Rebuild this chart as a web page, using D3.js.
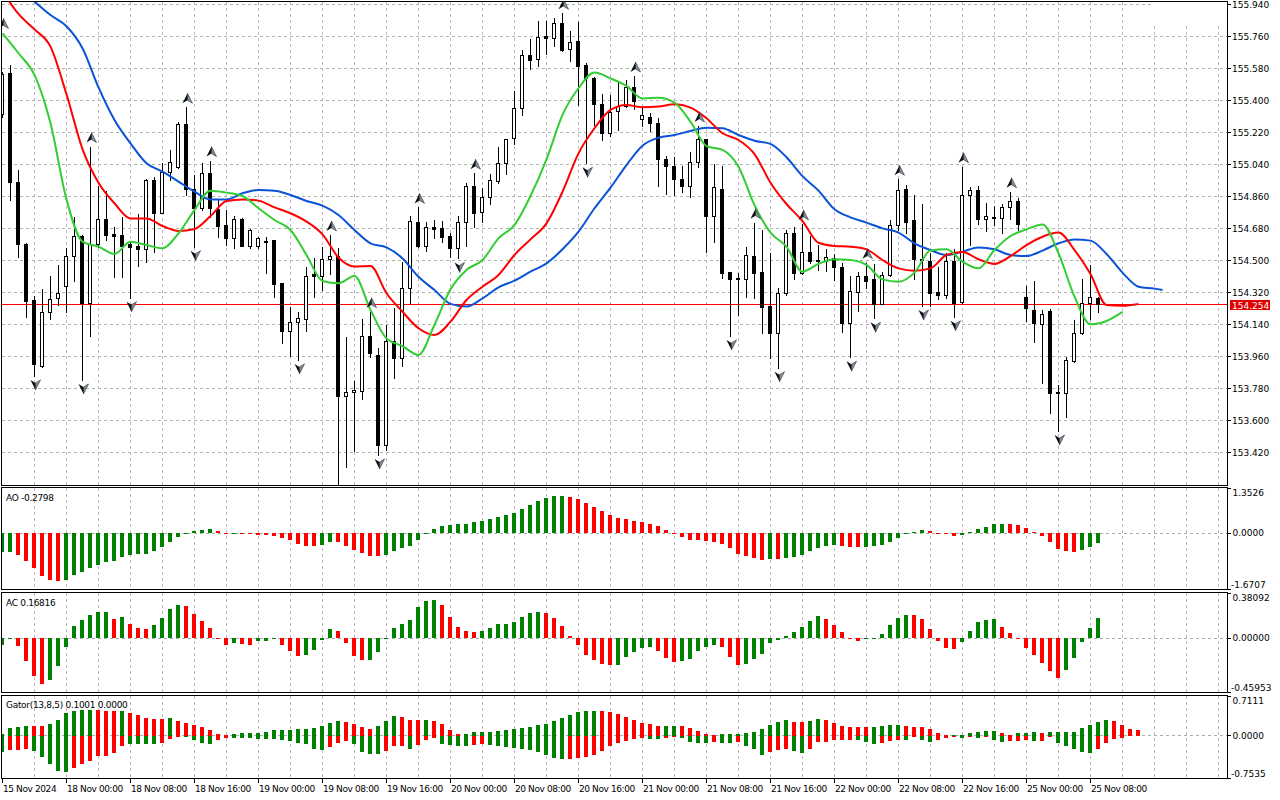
<!DOCTYPE html>
<html>
<head>
<meta charset="utf-8">
<title>H1 chart - Alligator, AO, AC, Gator</title>
<script src="https://cdnjs.cloudflare.com/ajax/libs/d3/7.8.5/d3.min.js"></script>
<style>
  html, body { margin: 0; padding: 0; background: #fff; overflow: hidden; }
  #chart svg { display: block; }
  text { font-family: "DejaVu Sans", Verdana, sans-serif; font-size: 9px; fill: #000; }
</style>
</head>
<body>
<div id="chart"></div>
<script>
// =======================================
// H1 candles + Alligator + Fractals
// sub windows: AO / AC / Gator
// D3 v7
// =======================================

// ---------- DATA ----------
// tick labels, one every 8 bars
const timeLabels = ["15 Nov 2024", "18 Nov 00:00", "18 Nov 08:00", "18 Nov 16:00", "19 Nov 00:00",
  "19 Nov 08:00", "19 Nov 16:00", "20 Nov 00:00", "20 Nov 08:00", "20 Nov 16:00", "21 Nov 00:00",
  "21 Nov 08:00", "21 Nov 16:00", "22 Nov 00:00", "22 Nov 08:00", "22 Nov 16:00", "25 Nov 00:00",
  "25 Nov 08:00"];

const priceTicks = [155.940, 155.760, 155.580, 155.400, 155.220, 155.040, 154.860, 154.680,
  154.500, 154.320, 154.140, 153.960, 153.780, 153.600, 153.420];
const lastPrice = 154.254;

const openP = [
  155.321, 155.550, 154.941, 154.588, 154.275, 153.906, 154.206, 154.284, 154.356, 154.524,
  154.635, 154.260, 154.588, 154.731, 154.644, 154.641, 154.590, 154.579, 154.560, 154.950,
  154.766, 154.993, 155.021, 155.265, 154.898, 154.791, 154.988, 154.785, 154.695, 154.622,
  154.731, 154.581, 154.581, 154.609, 154.613, 154.369, 154.103, 154.149, 154.166, 154.421,
  154.410, 154.504, 154.523, 153.737, 153.756, 153.765, 154.073, 153.966, 153.459, 154.044,
  153.947, 154.341, 154.716, 154.581, 154.684, 154.678, 154.637, 154.566, 154.712, 154.916,
  154.768, 154.856, 154.946, 155.048, 155.184, 155.353, 155.653, 155.629, 155.760, 155.747,
  155.831, 155.685, 155.732, 155.597, 155.526, 155.378, 155.213, 155.338, 155.366, 155.471,
  155.291, 155.303, 155.269, 155.070, 155.031, 154.954, 154.918, 155.049, 155.179, 154.749,
  154.899, 154.433, 154.397, 154.391, 154.523, 154.431, 154.241, 154.088, 154.313, 154.650,
  154.429, 154.543, 154.500, 154.496, 154.509, 154.459, 154.148, 154.322, 154.410, 154.391,
  154.253, 154.414, 154.695, 154.898, 154.725, 154.508, 154.496, 154.320, 154.305, 154.494,
  154.266, 154.864, 154.894, 154.729, 154.744, 154.734, 154.796, 154.832, 154.294, 154.219,
  154.140, 154.215, 153.758, 153.754, 153.934, 154.088, 154.256, 154.284];

const highP = [
  155.559, 155.597, 155.006, 154.598, 154.298, 154.335, 154.410, 154.472, 154.566, 154.740,
  154.641, 155.138, 154.916, 154.888, 154.688, 154.740, 154.609, 154.759, 154.955, 154.969,
  155.044, 155.119, 155.278, 155.359, 154.978, 155.044, 155.059, 154.838, 154.781, 154.748,
  154.736, 154.673, 154.628, 154.628, 154.615, 154.371, 154.238, 154.206, 154.463, 154.509,
  154.571, 154.641, 154.566, 154.065, 153.819, 154.168, 154.209, 154.003, 154.134, 154.228,
  154.491, 154.748, 154.796, 154.716, 154.725, 154.721, 154.650, 154.748, 154.935, 154.988,
  154.907, 154.982, 155.138, 155.183, 155.453, 155.681, 155.741, 155.846, 155.846, 155.859,
  155.888, 155.788, 155.841, 155.606, 155.528, 155.434, 155.429, 155.498, 155.513, 155.535,
  155.366, 155.329, 155.297, 155.085, 155.081, 155.029, 155.106, 155.254, 155.183, 155.040,
  155.029, 154.435, 154.429, 154.571, 154.710, 154.669, 154.538, 154.341, 154.669, 154.684,
  154.703, 154.635, 154.584, 154.560, 154.534, 154.481, 154.410, 154.434, 154.485, 154.478,
  154.434, 154.725, 154.954, 154.922, 154.866, 154.815, 154.538, 154.463, 154.538, 154.560,
  155.025, 154.913, 154.918, 154.819, 154.804, 154.815, 154.884, 154.851, 154.356, 154.382,
  154.221, 154.223, 153.797, 153.956, 154.163, 154.393, 154.472, 154.294];

const lowP = [
  155.306, 154.838, 154.519, 154.178, 153.848, 153.900, 154.166, 154.247, 154.209, 154.384,
  153.825, 154.074, 154.575, 154.613, 154.406, 154.406, 154.288, 154.468, 154.491, 154.547,
  154.763, 154.950, 155.016, 154.866, 154.575, 154.781, 154.744, 154.631, 154.584, 154.566,
  154.579, 154.566, 154.566, 154.425, 154.290, 154.031, 153.960, 153.938, 154.103, 154.290,
  154.331, 154.421, 153.216, 153.338, 153.428, 153.716, 153.956, 153.403, 153.431, 153.838,
  153.906, 154.256, 154.575, 154.553, 154.622, 154.603, 154.515, 154.509, 154.581, 154.688,
  154.716, 154.815, 154.931, 154.984, 155.153, 155.316, 155.574, 155.591, 155.659, 155.704,
  155.678, 155.621, 155.372, 155.044, 155.259, 155.175, 155.199, 155.231, 155.363, 155.348,
  155.254, 155.228, 154.918, 154.871, 154.866, 154.884, 154.856, 155.021, 154.547, 154.603,
  154.397, 154.073, 154.191, 154.294, 154.288, 154.091, 153.951, 153.894, 154.303, 154.391,
  154.421, 154.481, 154.444, 154.440, 154.388, 154.097, 153.953, 154.215, 154.341, 154.172,
  154.250, 154.412, 154.669, 154.650, 154.391, 154.241, 154.241, 154.279, 154.288, 154.181,
  154.258, 154.584, 154.703, 154.665, 154.697, 154.654, 154.729, 154.669, 154.159, 154.041,
  153.806, 153.638, 153.538, 153.619, 153.928, 154.082, 154.168, 154.209];

const closeP = [
  155.546, 154.941, 154.588, 154.271, 153.913, 154.206, 154.279, 154.313, 154.524, 154.635,
  154.260, 154.588, 154.731, 154.641, 154.635, 154.581, 154.575, 154.560, 154.950, 154.766,
  154.993, 155.049, 155.265, 154.898, 154.791, 154.988, 154.791, 154.691, 154.622, 154.729,
  154.581, 154.669, 154.622, 154.599, 154.365, 154.103, 154.149, 154.172, 154.410, 154.410,
  154.504, 154.523, 153.737, 153.756, 153.769, 154.073, 153.975, 153.459, 154.044, 153.951,
  154.341, 154.719, 154.581, 154.684, 154.676, 154.631, 154.566, 154.712, 154.916, 154.763,
  154.856, 154.950, 155.044, 155.179, 155.353, 155.653, 155.625, 155.753, 155.747, 155.831,
  155.681, 155.724, 155.593, 155.526, 155.376, 155.213, 155.334, 155.366, 155.471, 155.396,
  155.314, 155.269, 155.070, 155.031, 154.956, 154.918, 155.049, 155.179, 154.749, 154.909,
  154.429, 154.391, 154.391, 154.526, 154.429, 154.238, 154.088, 154.313, 154.650, 154.429,
  154.543, 154.496, 154.496, 154.515, 154.459, 154.148, 154.326, 154.410, 154.384, 154.253,
  154.416, 154.695, 154.894, 154.716, 154.504, 154.500, 154.313, 154.305, 154.494, 154.260,
  154.866, 154.894, 154.729, 154.749, 154.734, 154.796, 154.832, 154.701, 154.228, 154.144,
  154.196, 153.754, 153.750, 153.938, 154.091, 154.256, 154.290, 154.254];

// Alligator lines, [bar, price] (already shifted forward 8 / 5 / 3 bars)
const jawLine = [[0, 156.10], [2, 156.02], [4, 155.953], [6, 155.878], [8, 155.815], [10, 155.691],
  [12, 155.471], [14, 155.288], [16, 155.156], [18, 155.044], [20, 154.997], [22, 154.941],
  [24, 154.884], [26, 154.841], [28, 154.841], [30, 154.875], [32, 154.894], [34, 154.890],
  [36, 154.866], [38, 154.832], [40, 154.806], [42, 154.753], [44, 154.669], [46, 154.594],
  [48, 154.571], [50, 154.509], [52, 154.406], [54, 154.331], [56, 154.253], [58, 154.238],
  [60, 154.284], [62, 154.346], [64, 154.384], [66, 154.434], [68, 154.481], [70, 154.560],
  [72, 154.659], [74, 154.791], [76, 154.907], [78, 155.034], [80, 155.143], [82, 155.188],
  [84, 155.203], [86, 155.226], [88, 155.244], [90, 155.241], [92, 155.203], [94, 155.171],
  [96, 155.153], [98, 155.078], [100, 154.972], [102, 154.890], [104, 154.785], [106, 154.740],
  [108, 154.710], [110, 154.678], [112, 154.654], [114, 154.594], [116, 154.556], [118, 154.528],
  [120, 154.547], [122, 154.571], [124, 154.560], [126, 154.528], [128, 154.522], [130, 154.553],
  [132, 154.594], [134, 154.616], [136, 154.609], [138, 154.534], [140, 154.429], [142, 154.350],
  [144, 154.339], [145, 154.331]];

const teethLine = [[0, 156.01], [2, 155.884], [4, 155.797], [6, 155.700], [8, 155.432], [10, 155.124],
  [12, 154.935], [14, 154.819], [16, 154.734], [18, 154.734], [20, 154.691], [22, 154.663],
  [24, 154.674], [26, 154.747], [28, 154.832], [30, 154.841], [32, 154.834], [34, 154.796],
  [36, 154.763], [38, 154.716], [40, 154.644], [42, 154.514], [44, 154.463], [46, 154.466],
  [48, 154.313], [50, 154.209], [52, 154.116], [54, 154.078], [56, 154.153], [58, 154.275],
  [60, 154.350], [62, 154.416], [64, 154.528], [66, 154.616], [68, 154.706], [70, 154.884],
  [72, 155.100], [74, 155.241], [76, 155.344], [78, 155.372], [80, 155.359], [82, 155.363],
  [84, 155.376], [86, 155.357], [88, 155.297], [90, 155.213], [92, 155.175], [94, 155.096],
  [96, 154.935], [98, 154.815], [100, 154.719], [102, 154.597], [104, 154.579], [106, 154.575],
  [108, 154.560], [110, 154.500], [112, 154.453], [114, 154.440], [116, 154.453], [118, 154.528],
  [120, 154.545], [122, 154.504], [124, 154.478], [126, 154.522], [128, 154.584], [130, 154.631],
  [132, 154.654], [134, 154.556], [136, 154.421], [138, 154.247], [140, 154.243], [142, 154.253]];

const lipsLine = [[0, 155.775], [2, 155.663], [4, 155.541], [6, 155.269], [8, 154.841], [10, 154.603],
  [12, 154.575], [14, 154.534], [16, 154.603], [18, 154.584], [20, 154.566], [22, 154.650],
  [24, 154.781], [26, 154.890], [28, 154.879], [30, 154.860], [32, 154.791], [34, 154.725],
  [36, 154.669], [38, 154.528], [40, 154.382], [42, 154.369], [44, 154.410], [46, 154.219],
  [48, 154.059], [50, 154.016], [52, 153.966], [54, 154.136], [56, 154.335], [58, 154.444],
  [60, 154.500], [62, 154.622], [64, 154.697], [66, 154.860], [68, 155.066], [70, 155.316],
  [72, 155.466], [74, 155.554], [76, 155.522], [78, 155.479], [80, 155.409], [82, 155.413],
  [84, 155.385], [86, 155.278], [88, 155.141], [90, 155.119], [92, 155.025], [94, 154.809],
  [96, 154.654], [98, 154.575], [100, 154.434], [102, 154.478], [104, 154.504], [106, 154.500],
  [108, 154.472], [110, 154.391], [112, 154.378], [114, 154.429], [116, 154.553], [118, 154.560],
  [120, 154.491], [122, 154.453], [124, 154.556], [126, 154.635], [128, 154.672], [130, 154.700],
  [132, 154.538], [134, 154.294], [136, 154.138], [138, 154.157], [140, 154.208]];

// Fractals, [bar, price]
const fractalUp = [[0, 155.78], [11, 155.138], [23, 155.359], [26, 155.059], [41, 154.641],
  [46, 154.209], [52, 154.796], [59, 154.988], [70, 155.888], [79, 155.535], [87, 155.254],
  [94, 154.710], [100, 154.703], [108, 154.485], [112, 154.954], [120, 155.025], [126, 154.884]];
const fractalDown = [[4, 153.848], [10, 153.825], [16, 154.288], [24, 154.575], [37, 153.938],
  [42, 153.216], [47, 153.403], [57, 154.509], [73, 155.044], [91, 154.073], [97, 153.894],
  [106, 153.953], [109, 154.172], [115, 154.241], [119, 154.181], [132, 153.538]];

// Awesome Oscillator
const aoValues = [
  -0.55, -0.548, -0.65, -0.83, -1.03, -1.27, -1.39, -1.43, -1.40, -1.25,
  -1.15, -1.05, -0.95, -0.85, -0.82, -0.70, -0.65, -0.63, -0.61, -0.52,
  -0.40, -0.25, -0.10, -0.02, 0.08, 0.11, 0.14, 0.07, -0.01, -0.005,
  -0.012, -0.03, -0.05, -0.052, -0.07, -0.13, -0.20, -0.32, -0.37, -0.38,
  -0.35, -0.25, -0.26, -0.38, -0.50, -0.59, -0.67, -0.675, -0.65, -0.52,
  -0.45, -0.37, -0.20, -0.01, 0.13, 0.23, 0.26, 0.28, 0.285, 0.35,
  0.38, 0.44, 0.50, 0.56, 0.62, 0.74, 0.85, 0.98, 1.07, 1.115,
  1.12, 1.09, 1.03, 0.92, 0.79, 0.68, 0.55, 0.46, 0.43, 0.38,
  0.34, 0.29, 0.22, 0.11, 0.01, -0.10, -0.19, -0.20, -0.22, -0.25,
  -0.31, -0.43, -0.62, -0.68, -0.73, -0.79, -0.76, -0.77, -0.73, -0.70,
  -0.64, -0.52, -0.43, -0.37, -0.35, -0.37, -0.41, -0.415, -0.41, -0.38,
  -0.34, -0.25, -0.13, -0.03, 0.04, 0.10, 0.07, 0.005, -0.03, -0.07,
  -0.05, 0.04, 0.14, 0.20, 0.28, 0.285, 0.28, 0.25, 0.17, 0.03,
  -0.07, -0.25, -0.47, -0.54, -0.57, -0.51, -0.42, -0.2798];
const aoDir = "GGRRRRRRGG" + "GGGGGGGGGG" + "GGGGGGGRRG" + "RRRRRRRRRR" + "GGRRRRRRGG" +
  "GGGGGGGGGG" + "GGGGGGGGGG" + "GRRRRRRRRR" + "RRRRRRRRRR" + "RRRRRRGRGG" +
  "GGGGGRRRGG" + "GGGGGGRRRR" + "GGGGGGRRRR" + "RRRRRGGG";
const aoTicks = [1.3526, 0, -1.6707];

// Accelerator Oscillator
const acValues = [
  -0.062, -0.011, -0.065, -0.190, -0.321, -0.389, -0.352, -0.236, -0.071, 0.105,
  0.156, 0.199, 0.219, 0.222, 0.165, 0.182, 0.122, 0.088, 0.080, 0.114,
  0.173, 0.250, 0.284, 0.276, 0.207, 0.148, 0.088, -0.003, -0.057, -0.045,
  -0.048, -0.057, -0.028, -0.023, -0.009, -0.057, -0.108, -0.151, -0.142, -0.099,
  -0.014, 0.080, 0.057, -0.037, -0.148, -0.185, -0.183, -0.114, -0.011, 0.088,
  0.122, 0.156, 0.267, 0.318, 0.320, 0.284, 0.182, 0.099, 0.063, 0.054,
  0.065, 0.088, 0.122, 0.123, 0.139, 0.182, 0.216, 0.224, 0.216, 0.173,
  0.105, 0.020, -0.057, -0.142, -0.185, -0.219, -0.227, -0.224, -0.159, -0.114,
  -0.080, -0.078, -0.105, -0.168, -0.199, -0.197, -0.176, -0.105, -0.071, -0.057,
  -0.074, -0.159, -0.227, -0.219, -0.173, -0.131, -0.045, -0.017, 0.020, 0.054,
  0.097, 0.148, 0.190, 0.165, 0.114, 0.054, -0.002, -0.020, -0.001, 0.002,
  0.037, 0.114, 0.173, 0.199, 0.197, 0.165, 0.080, -0.020, -0.082, -0.091,
  -0.031, 0.063, 0.139, 0.156, 0.165, 0.097, 0.048, -0.001, -0.082, -0.142,
  -0.210, -0.278, -0.338, -0.270, -0.168, -0.031, 0.085, 0.16816];
const acDir = "GGRRRRGGGG" + "GGGGRGRRRG" + "GGGRRRRRRG" + "RRGGGRRRGG" + "GGRRRRGGGG" +
  "GGGGGRRRRR" + "GGGGGGGGRR" + "RRRRRRRGGG" + "GGRRRGGGGG" + "RRRGGGGGGG" +
  "GGGRRRRRGG" + "GGGGRRRRRR" + "GGGGGRRRRR" + "RRRGGGGG";
const acTicks = [0.38092, 0, -0.45953];

// Gator oscillator (upper |jaw-teeth|, lower -|teeth-lips|)
const gatorUpper = [
  0.042, 0.143, 0.161, 0.173, 0.179, 0.177, 0.208, 0.280, 0.405, 0.452,
  0.455, 0.458, 0.455, 0.452, 0.450, 0.452, 0.417, 0.375, 0.315, 0.298,
  0.296, 0.315, 0.268, 0.238, 0.196, 0.155, 0.101, 0.036, 0.018, 0.036,
  0.048, 0.049, 0.050, 0.065, 0.101, 0.103, 0.105, 0.125, 0.127, 0.137,
  0.173, 0.226, 0.262, 0.244, 0.208, 0.155, 0.119, 0.173, 0.262, 0.351,
  0.333, 0.280, 0.278, 0.281, 0.262, 0.208, 0.101, 0.030, 0.031, 0.065,
  0.066, 0.067, 0.083, 0.101, 0.119, 0.137, 0.155, 0.190, 0.208, 0.262,
  0.315, 0.369, 0.423, 0.440, 0.442, 0.440, 0.423, 0.387, 0.333, 0.280,
  0.226, 0.208, 0.173, 0.174, 0.175, 0.173, 0.137, 0.083, 0.030, 0.012,
  0.030, 0.031, 0.032, 0.048, 0.065, 0.119, 0.190, 0.244, 0.280, 0.244,
  0.243, 0.262, 0.298, 0.280, 0.226, 0.173, 0.155, 0.154, 0.153, 0.155,
  0.173, 0.190, 0.191, 0.173, 0.155, 0.154, 0.119, 0.048, 0.012, 0.013,
  0.018, 0.048, 0.065, 0.083, 0.084, 0.048, 0.012, 0.048, 0.049, 0.065,
  0.048, 0.065, 0.065, 0.066, 0.070, 0.137, 0.190, 0.245, 0.280, 0.260,
  0.190, 0.120, 0.1001];
const gatorUpperDir = "GGGGRRGGGG" + "GGRRRGRRRR" + "RGRRRRRRRG" + "GGGGGGGGGG" + "GGGRRRRGGG" +
  "RRRGRRRRGG" + "GGGGGGGGGG" + "GGGGGRRRRR" + "RRRGGRRRRR" + "GGGGGGGGGR" +
  "RGGRRRRRRG" + "GGGRRRRRRG" + "GGGGGRRGGG" + "RGGGGGGGGR" + "RRR";
const gatorLower = [
  -0.286, -0.256, -0.244, -0.238, -0.268, -0.375, -0.500, -0.625, -0.643, -0.571,
  -0.500, -0.446, -0.357, -0.355, -0.298, -0.179, -0.137, -0.138, -0.143, -0.145,
  -0.125, -0.054, -0.006, -0.012, -0.071, -0.125, -0.143, -0.071, -0.036, -0.040,
  -0.042, -0.044, -0.048, -0.054, -0.060, -0.071, -0.095, -0.125, -0.143, -0.238,
  -0.256, -0.196, -0.119, -0.089, -0.137, -0.286, -0.321, -0.325, -0.268, -0.179,
  -0.176, -0.232, -0.161, -0.071, -0.036, -0.143, -0.161, -0.179, -0.180, -0.161,
  -0.143, -0.161, -0.179, -0.196, -0.214, -0.232, -0.250, -0.286, -0.339, -0.393,
  -0.411, -0.409, -0.393, -0.375, -0.339, -0.268, -0.179, -0.125, -0.089, -0.054,
  -0.036, -0.054, -0.055, -0.036, -0.018, -0.036, -0.107, -0.125, -0.126, -0.107,
  -0.125, -0.126, -0.107, -0.179, -0.238, -0.339, -0.286, -0.250, -0.232, -0.268,
  -0.304, -0.232, -0.107, -0.105, -0.071, -0.070, -0.069, -0.072, -0.107, -0.143,
  -0.125, -0.089, -0.071, -0.072, -0.018, -0.071, -0.107, -0.071, -0.036, -0.018,
  -0.030, -0.024, -0.036, -0.012, -0.071, -0.107, -0.089, -0.088, -0.071, -0.089,
  -0.088, -0.018, -0.125, -0.178, -0.228, -0.283, -0.298, -0.226, -0.122, -0.050,
  -0.030];
const gatorLowerDir = "GRRRGGGGGR" + "RRRRRRGGGG" + "RRRGGGGRRG" + "GGGGGGGGGG" + "GRRRGGGGRR" +
  "RGRRRGGGGR" + "RGGGGGGGGG" + "GRRRRRRRRR" + "RGGRRGGGGR" + "GGRGGGRRRG" +
  "GRRRRRRGGG" + "RRRGRGGRRR" + "GRGRGGRRRG" + "RRGGGGGRRR" + "R";
const gatorTicks = [0.7111, 0, -0.7535];

// ---------- LAYOUT ----------
const W = 1280, H = 800;
const AXIS_X = 1227;          // right price axis
const LAST_GRID_BAR = 152;    // grid continues into the shift area

const PANELS = {
  main:  { top: 1,   bottom: 485 },
  ao:    { top: 487, bottom: 589 },
  ac:    { top: 592, bottom: 692 },
  gator: { top: 695, bottom: 778 }
};

const COL = {
  up: "#008000",
  down: "#ff0000",
  jaw: "#0a52d6",
  teeth: "#ff0000",
  lips: "#32cd32",
  gridV: "#c4b2c8",
  gridH: "#a6baa6"
};

// ---------- SCALES ----------
const x = d3.scaleLinear().domain([0, LAST_GRID_BAR]).range([2.5, 2.5 + 8 * LAST_GRID_BAR]);
const yMain = d3.scaleLinear().domain([153.42, 155.94]).range([452, 4]);
const yAO = d3.scaleLinear().domain([aoTicks[2], aoTicks[0]]).range([589, 488.3]);
const yAC = d3.scaleLinear().domain([acTicks[2], acTicks[0]]).range([692.3, 593.3]);
const yGator = d3.scaleLinear().domain([gatorTicks[2], gatorTicks[0]]).range([778.3, 696]);

const px = v => Math.round(v) + 0.5;   // sharp 1px lines

// ---------- SVG ----------
const svg = d3.select("#chart").append("svg")
  .attr("width", W)
  .attr("height", H);

const defs = svg.append("defs");
Object.entries(PANELS).forEach(([id, p]) => {
  defs.append("clipPath").attr("id", "clip-" + id)
    .append("rect")
    .attr("x", 2).attr("y", p.top + 1)
    .attr("width", AXIS_X - 2).attr("height", p.bottom - p.top - 1);
});

// ---------- GRID ----------
const gridBars = d3.range(4, LAST_GRID_BAR + 1, 4);

Object.entries(PANELS).forEach(([id, p]) => {
  svg.append("g")
    .attr("shape-rendering", "crispEdges")
    .selectAll("line")
    .data(gridBars)
    .enter()
    .append("line")
    .attr("x1", d => x(d)).attr("x2", d => x(d))
    .attr("y1", d => (id === "main" && x(d) > 1150) ? 26 : p.top + 1)
    .attr("y2", p.bottom)
    .attr("stroke", COL.gridV)
    .attr("stroke-dasharray", "3,3");
});

svg.append("g")
  .attr("shape-rendering", "crispEdges")
  .selectAll("line")
  .data(priceTicks)
  .enter()
  .append("line")
  .attr("x1", 2)
  .attr("x2", (d, i) => i === 0 ? 1152 : AXIS_X)
  .attr("y1", d => px(yMain(d))).attr("y2", d => px(yMain(d)))
  .attr("stroke", COL.gridH)
  .attr("stroke-dasharray", "3,3");

// zero lines of the sub windows
[yAO, yAC, yGator].forEach(y => {
  svg.append("line")
    .attr("shape-rendering", "crispEdges")
    .attr("x1", 2).attr("x2", AXIS_X)
    .attr("y1", px(y(0) - 0.5)).attr("y2", px(y(0) - 0.5))
    .attr("stroke", "#a8b0a8")
    .attr("stroke-dasharray", "3,3");
});

// ---------- PRICE LINE ----------
svg.append("line")
  .attr("shape-rendering", "crispEdges")
  .attr("x1", 2).attr("x2", AXIS_X)
  .attr("y1", px(yMain(lastPrice))).attr("y2", px(yMain(lastPrice)))
  .attr("stroke", "#ff0000");

// ---------- CANDLES ----------
const candles = openP.map((o, i) => ({ i, o, h: highP[i], l: lowP[i], c: closeP[i] }));
const gMain = svg.append("g").attr("clip-path", "url(#clip-main)");

const gCandle = gMain.append("g").attr("shape-rendering", "crispEdges");

gCandle.selectAll(".wick")
  .data(candles)
  .enter()
  .append("line")
  .attr("class", "wick")
  .attr("x1", d => x(d.i)).attr("x2", d => x(d.i))
  .attr("y1", d => Math.round(yMain(d.h)))
  .attr("y2", d => Math.round(yMain(d.l)) + 1)
  .attr("stroke", "#000");

gCandle.selectAll(".body")
  .data(candles)
  .enter()
  .append("rect")
  .attr("class", "body")
  .attr("x", d => x(d.i) - 2)
  .attr("width", 3)
  .attr("y", d => px(yMain(Math.max(d.o, d.c))))
  .attr("height", d => Math.max(1, Math.round(yMain(Math.min(d.o, d.c))) - Math.round(yMain(Math.max(d.o, d.c)))))
  .attr("fill", d => d.c >= d.o ? "#fff" : "#000")
  .attr("stroke", "#000");

// ---------- ALLIGATOR ----------
const line = d3.line()
  .x(d => x(d[0]))
  .y(d => yMain(d[1]))
  .curve(d3.curveMonotoneX);

[[jawLine, COL.jaw], [teethLine, COL.teeth], [lipsLine, COL.lips]].forEach(([data, color]) => {
  gMain.append("path")
    .datum(data)
    .attr("fill", "none")
    .attr("stroke", color)
    .attr("stroke-width", 2)
    .attr("stroke-linejoin", "round")
    .attr("d", line);
});

// ---------- FRACTALS ----------
function drawFractal(data, isUp) {
  const s = isUp ? 1 : -1;
  const f = gMain.append("g").selectAll("g")
    .data(data)
    .enter()
    .append("g")
    .attr("transform", d => `translate(${x(d[0]) + 1},${yMain(d[1]) - s * 8.5})`);

  f.append("path")
    .attr("d", `M0,${-5.5 * s} L5,${4.5 * s} L0,${1.5 * s} Z`)
    .attr("fill", "#7d8fa6")
    .attr("stroke", "#333")
    .attr("stroke-width", 0.6);
  f.append("path")
    .attr("d", `M0,${-5.5 * s} L-5,${4.5 * s} L0,${1.5 * s} Z`)
    .attr("fill", "#111");
}
drawFractal(fractalUp, true);
drawFractal(fractalDown, false);

// ---------- HISTOGRAMS ----------
function drawHist(id, values, dirs, y) {
  const y0 = y(0);
  svg.append("g")
    .attr("clip-path", `url(#clip-${id})`)
    .attr("shape-rendering", "crispEdges")
    .selectAll("rect")
    .data(values)
    .enter()
    .append("rect")
    .attr("x", (d, i) => x(i) - 2.5)
    .attr("width", 4)
    .attr("y", d => Math.min(y(d), y0))
    .attr("height", d => Math.max(1, Math.abs(y(d) - y0)))
    .attr("fill", (d, i) => dirs[i] === "G" ? COL.up : COL.down);
}
drawHist("ao", aoValues, aoDir, yAO);
drawHist("ac", acValues, acDir, yAC);
drawHist("gator", gatorUpper, gatorUpperDir, yGator);
drawHist("gator", gatorLower, gatorLowerDir, yGator);

// ---------- FRAMES ----------
Object.values(PANELS).forEach(p => {
  svg.append("rect")
    .attr("shape-rendering", "crispEdges")
    .attr("x", 1.5).attr("y", p.top + 0.5)
    .attr("width", AXIS_X - 1).attr("height", p.bottom - p.top)
    .attr("fill", "none")
    .attr("stroke", "#000");
});

// ---------- PRICE AXIS ----------
const gAxis = svg.append("g");

gAxis.selectAll(".ptick")
  .data(priceTicks)
  .enter()
  .append("line")
  .attr("shape-rendering", "crispEdges")
  .attr("x1", AXIS_X).attr("x2", AXIS_X + 4)
  .attr("y1", d => px(yMain(d))).attr("y2", d => px(yMain(d)))
  .attr("stroke", "#000");

gAxis.selectAll(".plabel")
  .data(priceTicks)
  .enter()
  .append("text")
  .attr("x", AXIS_X + 5)
  .attr("y", d => Math.round(yMain(d)) + 4)
  .text(d => d.toFixed(3));

// current price box
const yLast = Math.round(yMain(lastPrice));
gAxis.append("rect")
  .attr("x", AXIS_X + 3).attr("y", yLast - 4)
  .attr("width", 40).attr("height", 10)
  .attr("fill", "#e00000");
gAxis.append("text")
  .attr("x", AXIS_X + 5).attr("y", yLast + 4.5)
  .style("fill", "#fff")
  .text(lastPrice.toFixed(3));

// sub window scales: top / zero / bottom labels
function subAxis(ticks, y, digits) {
  ticks.forEach((t, k) => {
    const ty = y(t);
    gAxis.append("line")
      .attr("shape-rendering", "crispEdges")
      .attr("x1", AXIS_X).attr("x2", AXIS_X + 4)
      .attr("y1", px(ty - 0.5)).attr("y2", px(ty - 0.5))
      .attr("stroke", "#000");
    const dy = k === 0 ? 8 : (k === 1 ? 3 : -1.5);
    gAxis.append("text")
      .attr("x", AXIS_X + (t < 0 ? 4 : 5.5))
      .attr("y", ty + dy)
      .text(t.toFixed(digits));
  });
}
subAxis(aoTicks, yAO, 4);
subAxis(acTicks, yAC, 5);
subAxis(gatorTicks, yGator, 4);

// ---------- SUB WINDOW TITLES ----------
const titles = [
  ["AO " + aoValues[aoValues.length - 1].toFixed(4), 501],
  ["AC " + acValues[acValues.length - 1].toFixed(5), 605.5],
  ["Gator(13,8,5) " + gatorUpper[gatorUpper.length - 1].toFixed(4) + " 0.0000", 707.5]
];
titles.forEach(([t, ty]) => {
  svg.append("text")
    .attr("x", 6).attr("y", ty)
    .style("letter-spacing", "-0.3px")
    .text(t);
});

// ---------- TIME AXIS ----------
const gTime = svg.append("g");
gTime.selectAll("line")
  .data(timeLabels)
  .enter()
  .append("line")
  .attr("shape-rendering", "crispEdges")
  .attr("x1", (d, i) => x(i * 8)).attr("x2", (d, i) => x(i * 8))
  .attr("y1", PANELS.gator.bottom).attr("y2", PANELS.gator.bottom + 5)
  .attr("stroke", "#000");

gTime.selectAll("text")
  .data(timeLabels)
  .enter()
  .append("text")
  .attr("x", (d, i) => x(i * 8) + 0.5)
  .attr("y", 792)
  .style("letter-spacing", "-0.4px")
  .text(d => d);
</script>
</body>
</html>
